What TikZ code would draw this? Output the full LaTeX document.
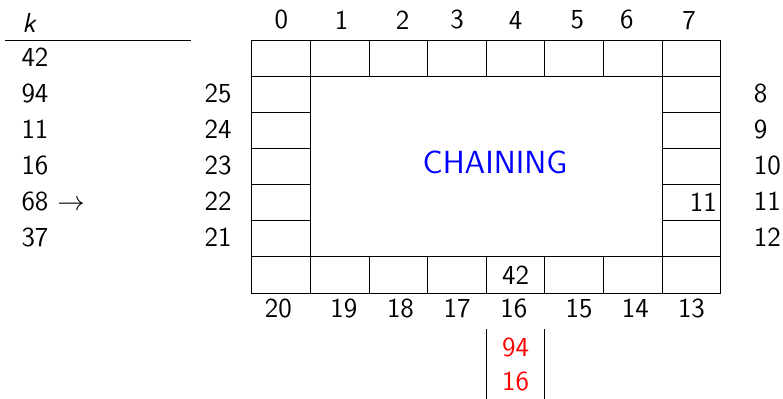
\documentclass[tikz,border=0pt]{standalone}
\usepackage{tikz}
\usetikzlibrary{positioning}

\begin{document}
\begin{tikzpicture}[
    x=0.4pt, y=-0.4pt,
    font=\fontsize{11}{13}\selectfont\sffamily,
    cell/.style={draw=black, line width=0.4pt, minimum width=23.44pt, minimum height=14.4pt, inner sep=0pt, outer sep=0pt},
    idx/.style={inner sep=0pt},
    key/.style={anchor=west, inner sep=0pt},
    chained/.style={text=red, inner sep=0pt}
]
\useasboundingbox (0,0) rectangle (783,399);

% Keys
\node[key] (khead) at (22,23) {\textit{k}};
\coordinate (ruleL) at (5,40.7);
\coordinate (ruleR) at (191,40.7);
\draw[line width=0.4pt] (ruleL) -- (ruleR);
\node[key] (k0) at (21,57)  {42};
\node[key] (k1) at (21,93)  {94};
\node[key] (k2) at (21,129) {11};
\node[key] (k3) at (21,165) {16};
\node[key] (k4) at (21,201) {68 $\rightarrow$};
\node[key] (k5) at (21,237) {37};

% Top row
\node[cell] (c0) at (281.3,59) {};
\node[cell] (c1) at (339.9,59) {};
\node[cell] (c2) at (398.5,59) {};
\node[cell] (c3) at (457.1,59) {};
\node[cell] (c4) at (515.7,59) {};
\node[cell] (c5) at (574.3,59) {};
\node[cell] (c6) at (632.9,59) {};
\node[cell] (c7) at (691.5,59) {};

% Right column
\node[cell, below=0pt of c7]  (c8)  {};
\node[cell, below=0pt of c8]  (c9)  {};
\node[cell, below=0pt of c9]  (c10) {};
\node[cell, below=0pt of c10] (c11) {\hspace*{9.5pt}\raisebox{0.8pt}{11}};
\node[cell, below=0pt of c11] (c12) {};

% Bottom row
\node[cell, below=0pt of c12] (c13) {};
\node[cell, left=0pt of c13]  (c14) {};
\node[cell, left=0pt of c14]  (c15) {};
\node[cell, left=0pt of c15]  (c16) {42};
\node[cell, left=0pt of c16]  (c17) {};
\node[cell, left=0pt of c17]  (c18) {};
\node[cell, left=0pt of c18]  (c19) {};
\node[cell, left=0pt of c19]  (c20) {};

% Left column
\node[cell, above=0pt of c20] (c21) {};
\node[cell, above=0pt of c21] (c22) {};
\node[cell, above=0pt of c22] (c23) {};
\node[cell, above=0pt of c23] (c24) {};
\node[cell, above=0pt of c24] (c25) {};

% Indices
\node[idx, above=4.4pt of c0] {0};
\node[idx, above=4.4pt of c1, xshift=0.7pt] {1};
\node[idx, above=4.4pt of c2, xshift=1.6pt] {2};
\node[idx, above=4.4pt of c3] {3};
\node[idx, above=4.4pt of c4] {4};
\node[idx, above=4.4pt of c5, xshift=1.2pt] {5};
\node[idx, above=4.4pt of c6, xshift=-2.4pt] {6};
\node[idx, above=4.4pt of c7, xshift=-1pt] {7};
\node[idx, right=13pt of c8, yshift=0.6pt]  {8};
\node[idx, right=13pt of c9, yshift=0.6pt]  {9};
\node[idx, right=13pt of c10, yshift=0.6pt] {10};
\node[idx, right=13pt of c11, yshift=0.6pt] {11};
\node[idx, right=13pt of c12, yshift=0.6pt] {12};
\node[idx, below=2pt of c13] {13};
\node[idx, below=2pt of c14, xshift=1pt] {14};
\node[idx, below=2pt of c15, xshift=1.9pt] {15};
\node[idx, below=2pt of c16, xshift=-0.7pt] {16};
\node[idx, below=2pt of c17] {17};
\node[idx, below=2pt of c18, xshift=0.8pt] {18};
\node[idx, below=2pt of c19, xshift=1.6pt] {19};
\node[idx, below=2pt of c20, xshift=-1.2pt] {20};
\node[idx, left=8pt of c21, yshift=0.8pt] {21};
\node[idx, left=8pt of c22, yshift=0.8pt] {22};
\node[idx, left=8pt of c23, yshift=0.8pt] {23};
\node[idx, left=8pt of c24, yshift=0.8pt] {24};
\node[idx, left=8pt of c25, yshift=0.8pt] {25};

% Label
\node[text=blue, font=\fontsize{12.8}{15}\selectfont\sffamily, inner sep=0pt] (title) at (495,162.5) {CHAINING};

% Chain of slot 16
\node[chained] (e1) at (515.7,347) {94};
\node[chained] (e2) at (515.7,381) {16};
\coordinate (chainL) at (486.4,329);
\coordinate (chainR) at (545,329);
\draw (chainL) -- (chainL |- 0,399);
\draw (chainR) -- (chainR |- 0,399);

\end{tikzpicture}
\end{document}
